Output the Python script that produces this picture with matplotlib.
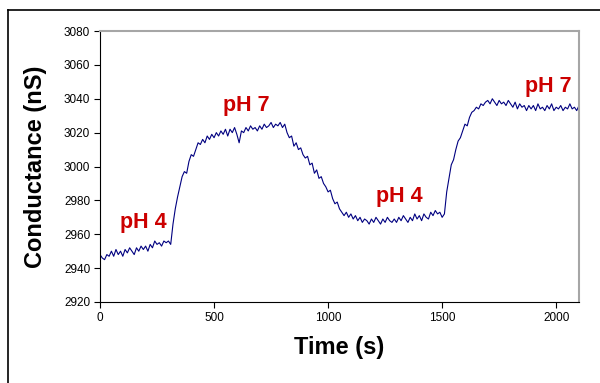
import numpy as np
import matplotlib
matplotlib.use("Agg")
import matplotlib.pyplot as plt
from matplotlib.lines import Line2D

plt.rcParams['font.family'] = ['Liberation Sans', 'DejaVu Sans']

# ====== Data (one sample every 10 s) ======
time_s = np.arange(0, 2110, 10)
conductance_ns = [
    2948, 2946, 2945, 2948, 2947, 2950, 2947, 2951, 2948, 2950,
    2947, 2951, 2949, 2952, 2950, 2948, 2952, 2950, 2953, 2951,
    2953, 2950, 2954, 2952, 2956, 2954, 2955, 2953, 2956, 2955,
    2956, 2954, 2966, 2975, 2982, 2988, 2994, 2997, 2996, 3003,
    3007, 3006, 3010, 3014, 3013, 3016, 3014, 3018, 3016, 3019,
    3017, 3020, 3018, 3021, 3019, 3022, 3018, 3022, 3020, 3023,
    3019, 3014, 3021, 3020, 3023, 3021, 3024, 3022, 3023, 3021,
    3024, 3022, 3025, 3023, 3024, 3026, 3023, 3025, 3024, 3026,
    3023, 3025, 3020, 3017, 3018, 3012, 3014, 3010, 3011, 3007,
    3005, 3006, 3001, 3002, 2996, 2998, 2993, 2994, 2990, 2988,
    2985, 2986, 2981, 2978, 2979, 2975, 2973, 2971, 2973, 2970,
    2972, 2969, 2971, 2968, 2970, 2967, 2969, 2968, 2966, 2969,
    2967, 2970, 2968, 2966, 2969, 2967, 2970, 2968, 2967, 2969,
    2967, 2970, 2968, 2971, 2969, 2967, 2970, 2968, 2972, 2969,
    2971, 2968, 2972, 2970, 2969, 2973, 2971, 2974, 2972, 2973,
    2970, 2972, 2985, 2993, 3001, 3004, 3010, 3015, 3017, 3021,
    3025, 3024, 3029, 3032, 3033, 3035, 3034, 3037, 3036, 3038,
    3039, 3037, 3040, 3038, 3036, 3039, 3037, 3038, 3036, 3039,
    3037, 3035, 3038, 3034, 3037, 3035, 3036, 3033, 3036, 3034,
    3036, 3033, 3037, 3034, 3035, 3033, 3036, 3034, 3037, 3033,
    3035, 3034, 3036, 3033, 3035, 3034, 3037, 3034, 3035, 3033,
    3036,
]

# pH annotations: label, time, conductance
ph_labels = ["pH 4", "pH 7", "pH 4", "pH 7"]
ph_times = [190, 640, 1311, 1965]
ph_values = [2967, 3036, 2982, 3047]

x_ticks = [0, 500, 1000, 1500, 2000]
y_ticks = [2920, 2940, 2960, 2980, 3000, 3020, 3040, 3060, 3080]

fig = plt.figure(figsize=(6.0, 3.83), dpi=100)
ax = fig.add_axes([100/600, 1 - 302/383, 479/600, 271/383])

ax.plot(time_s, conductance_ns, color='#000080', linewidth=0.8)

for label, t, v in zip(ph_labels, ph_times, ph_values):
    ax.text(t, v, label, color='#CC0000', fontsize=15.5, fontweight='bold',
            ha='center', va='center')

ax.set_xlim(0, 2100)
ax.set_ylim(2920, 3080)
ax.set_xticks(x_ticks)
ax.set_yticks(y_ticks)
ax.tick_params(labelsize=8.5, length=4, width=0.8, direction='out', pad=3)

ax.set_xlabel("Time (s)", fontsize=17, fontweight='bold', labelpad=9)
ax.set_ylabel("Conductance (nS)", fontsize=17, fontweight='bold', labelpad=12)

# Excel-like plot frame: black left/bottom, grey top/right
ax.spines['left'].set_color('black')
ax.spines['bottom'].set_color('black')
ax.spines['top'].set_color('#a6a6a6')
ax.spines['right'].set_color('#a6a6a6')
for side in ['top', 'right']:
    ax.spines[side].set_linewidth(1.5)
for side in ['left', 'bottom']:
    ax.spines[side].set_linewidth(0.8)

# outer chart border (top and left visible)
fig.add_artist(Line2D([8/600, 1.0], [1 - 9.5/383, 1 - 9.5/383],
                      transform=fig.transFigure, color='black', linewidth=1.2))
fig.add_artist(Line2D([8/600, 8/600], [0.0, 1 - 9.5/383],
                      transform=fig.transFigure, color='black', linewidth=1.2))

fig.savefig("out.png", dpi=100)
